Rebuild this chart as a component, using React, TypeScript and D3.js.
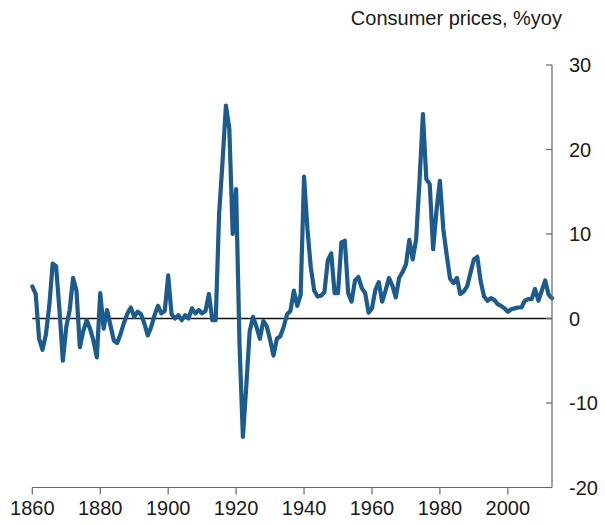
import React from "react";
import * as d3 from "d3";

const startYear = 1860;
const endYear = 2013;
// UK consumer prices, % year-on-year, annual from 1860 to 2013
const inflation: number[] = [
  3.8, 2.9, -2.4, -3.7, -1.9, 1.5, 6.5, 6.2, 1.0, -5.0, // 1860s
  -1.0, 1.0, 4.8, 3.3, -3.4, -1.5, -0.2, -1.2, -2.6, -4.6, // 1870s
  3.0, -1.2, 1.0, -0.8, -2.6, -2.9, -1.8, -0.5, 0.6, 1.3, // 1880s
  0.2, 0.8, 0.5, -0.6, -2.0, -1.0, 0.4, 1.5, 0.6, 0.9, // 1890s
  5.1, 0.5, 0.0, 0.4, -0.2, 0.4, 0.0, 1.2, 0.6, 1.0, // 1900s
  0.6, 0.9, 2.9, -0.2, -0.2, 12.4, 18.5, 25.2, 22.5, 10.0, // 1910s
  15.3, -3.0, -14.0, -8.0, -1.5, 0.2, -1.0, -2.4, -0.3, -0.9, // 1920s
  -2.5, -4.4, -2.4, -2.1, -1.0, 0.5, 0.9, 3.3, 1.5, 2.8, // 1930s
  16.8, 10.6, 6.0, 3.3, 2.6, 2.7, 3.1, 6.9, 7.7, 3.0, // 1940s
  3.0, 9.0, 9.2, 3.0, 2.0, 4.5, 4.9, 3.6, 3.0, 0.7, // 1950s
  1.2, 3.4, 4.3, 2.0, 3.3, 4.8, 3.9, 2.5, 4.8, 5.5, // 1960s
  6.4, 9.3, 7.0, 9.4, 16.3, 24.2, 16.5, 15.9, 8.2, 12.8, // 1970s
  16.3, 10.6, 7.5, 4.7, 4.2, 4.8, 2.9, 3.2, 3.8, 5.4, // 1980s
  7.0, 7.3, 4.4, 2.6, 2.1, 2.4, 2.2, 1.7, 1.5, 1.2, // 1990s
  0.8, 1.1, 1.2, 1.3, 1.3, 2.1, 2.3, 2.3, 3.5, 2.1, // 2000s
  3.3, 4.5, 2.8, 2.4, // 2010s
];
const xTicks = [1860, 1880, 1900, 1920, 1940, 1960, 1980, 2000];
const yTicks = [-20, -10, 0, 10, 20, 30];
const title = "Consumer prices, %yoy";

const W = 605;
const H = 525;
const FONT = "Arial, 'Liberation Sans', sans-serif";

export default function App() {
  const x = d3.scaleLinear().domain([startYear, endYear]).range([32.3, 552]);
  const y = d3.scaleLinear().domain([-20, 30]).range([487.5, 65]);
  const data = inflation.map((v, i) => ({ year: startYear + i, v }));
  const line = d3
    .line<{ year: number; v: number }>()
    .x((d) => x(d.year))
    .y((d) => y(d.v));
  const axisX = x(endYear);
  const baseY = y(-20);
  return (
    <svg
      width={W}
      height={H}
      style={{ position: "absolute", left: 0, top: 0, display: "block", background: "#fff" }}
      fontFamily={FONT}
    >
      <text x={562} y={25} textAnchor="end" fontSize={20} fill="#1a1a1a">
        {title}
      </text>
      {/* zero line */}
      <line x1={x(startYear)} x2={axisX} y1={y(0)} y2={y(0)} stroke="#111" strokeWidth={1.3} />
      {/* data line */}
      <path
        d={line(data) || ""}
        fill="none"
        stroke="#1d5a8e"
        strokeWidth={4.2}
        strokeLinejoin="round"
        strokeLinecap="round"
      />
      {/* x axis */}
      <line x1={x(startYear)} x2={axisX} y1={baseY} y2={baseY} stroke="#666" strokeWidth={1.2} />
      {xTicks.map((t) => (
        <g key={t}>
          <line x1={x(t)} x2={x(t)} y1={baseY} y2={baseY + 7} stroke="#666" strokeWidth={1.2} />
          <text x={x(t)} y={baseY + 27} textAnchor="middle" fontSize={20} fill="#1a1a1a">
            {t}
          </text>
        </g>
      ))}
      {/* y axis (right) */}
      <line x1={axisX} x2={axisX} y1={y(30)} y2={baseY} stroke="#666" strokeWidth={1.2} />
      {yTicks.map((t) => (
        <g key={t}>
          <line x1={axisX - 6} x2={axisX} y1={y(t)} y2={y(t)} stroke="#666" strokeWidth={1.2} />
          <text x={569} y={y(t)} dy="0.35em" textAnchor="start" fontSize={20} fill="#1a1a1a">
            {t}
          </text>
        </g>
      ))}
    </svg>
  );
}
